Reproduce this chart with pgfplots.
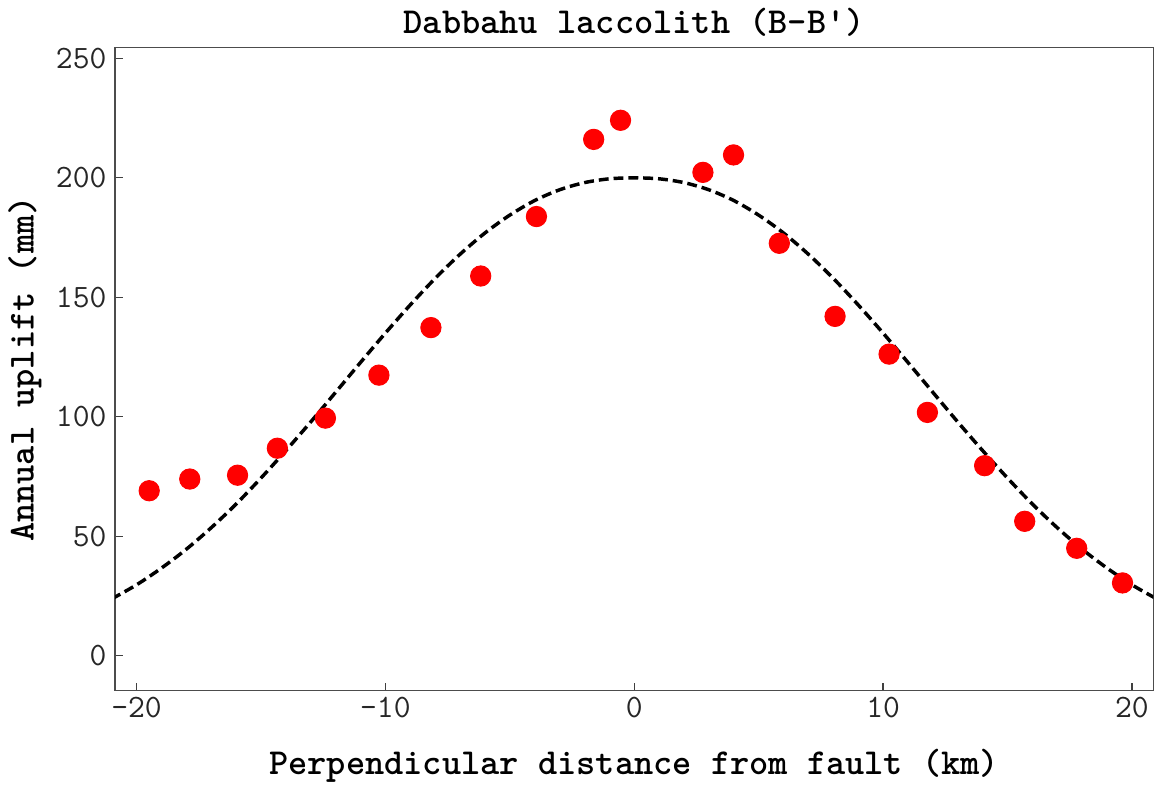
\documentclass[border=0pt]{standalone}
\usepackage{pgfplots}
\pgfplotsset{compat=1.18}
\usepackage{fontspec}
\begin{document}
\ttfamily
\begin{tikzpicture}
\begin{axis}[
  scale only axis,
  width=420pt, height=260pt,
  xmin=-20.86, xmax=20.86,
  ymin=-14.6, ymax=254.5,
  xtick={-20,-10,0,10,20},
  ytick={0,50,100,150,200,250},
  xtick pos=bottom, ytick pos=left,
  tick align=inside,
  major tick length=3.2pt,
  tick style={black!75, line width=0.5pt},
  axis line style={black!70, line width=0.6pt},
  /pgf/number format/assume math mode=true,
  ticklabel style={font=\ttfamily\fontsize{13.2}{15}\selectfont, text=black!85},
  xticklabel style={yshift=1pt},
  title={\bfseries Dabbahu laccolith (B-B\textquotesingle)},
  title style={font=\ttfamily\fontsize{14.8}{17}\selectfont, yshift=-5pt},
  xlabel={\bfseries Perpendicular distance from fault (km)},
  ylabel={\bfseries Annual uplift (mm)},
  label style={font=\ttfamily\fontsize{14.8}{17}\selectfont},
  xlabel style={yshift=-6pt},
  ylabel style={yshift=-1pt},
  clip=true,
]
\addplot[black, line width=1.4pt, dash pattern=on 4pt off 2pt, smooth] coordinates {
(-21,23.7) (-20,29.6) (-19,36.6) (-18,44.5) (-17,53.5) (-16,63.4) (-15,74.3)
(-14,85.8) (-13,97.8) (-12,110.2) (-11,122.7) (-10,135.0) (-9,146.8) (-8,157.9)
(-7,168.0) (-6,176.9) (-5,184.4) (-4,190.5) (-3,195.0) (-2,198.0) (-1,199.6)
(0,200.0) (1,199.6) (2,198.0) (3,195.0) (4,190.5) (5,184.4) (6,176.9) (7,168.0)
(8,157.9) (9,146.8) (10,135.0) (11,122.7) (12,110.2) (13,97.8) (14,85.8)
(15,74.3) (16,63.4) (17,53.5) (18,44.5) (19,36.6) (20,29.6) (21,23.7)
};
\addplot[only marks, mark=*, mark size=4.1pt, color=red, mark options={fill=red, draw=red}] coordinates {
(-19.49,69.0) (-17.86,73.9) (-15.94,75.5) (-14.34,86.8) (-12.41,99.4)
(-10.26,117.4) (-8.17,137.3) (-6.17,158.9) (-3.93,183.8) (-1.63,216.1)
(-0.55,224.1) (2.76,202.3) (3.99,209.6) (5.83,172.6) (8.07,142.0)
(10.24,126.2) (11.78,101.8) (14.08,79.5) (15.69,56.2) (17.78,44.9) (19.62,30.4)
};
\end{axis}
\end{tikzpicture}
\end{document}
